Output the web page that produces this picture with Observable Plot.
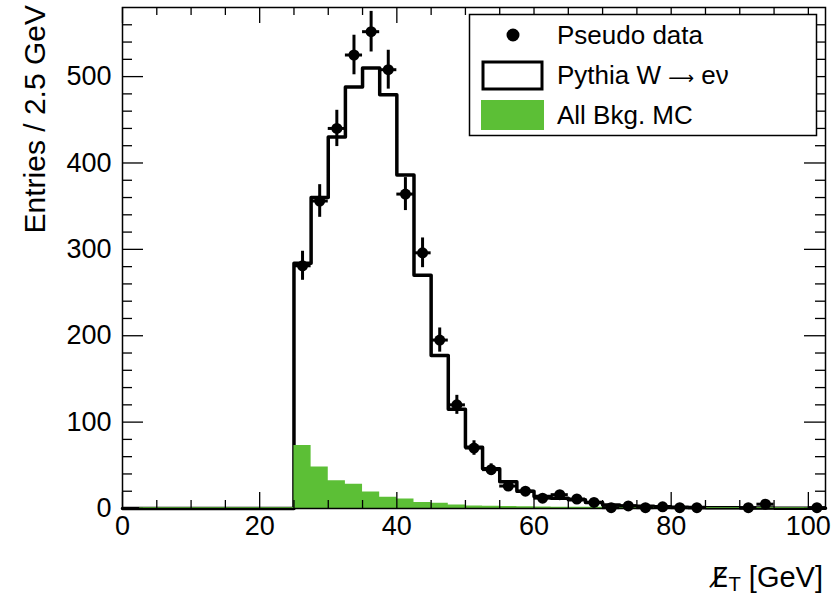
<!DOCTYPE html>
<html>
<head>
<meta charset="utf-8">
<script src="https://cdn.jsdelivr.net/npm/d3@7"></script>
<script src="https://cdn.jsdelivr.net/npm/@observablehq/plot@0.6"></script>
<style>
  html, body { margin: 0; padding: 0; background: white; }
  svg { display: block; }
</style>
</head>
<body>
<div id="chart"></div>
<script>
// ---- data ----
const binLow = [0, 2.5, 5, 7.5, 10, 12.5, 15, 17.5, 20, 22.5,
  25, 27.5, 30, 32.5, 35, 37.5, 40, 42.5, 45, 47.5,
  50, 52.5, 55, 57.5, 60, 62.5, 65, 67.5, 70, 72.5,
  75, 77.5, 80, 82.5, 85, 87.5, 90, 92.5, 95, 97.5, 100];
const binUpperEdge = 102.5;

const signalMC = [0, 0, 0, 0, 0, 0, 0, 0, 0, 0,
  284, 360, 430, 488, 510, 479, 386, 270, 177, 115,
  71, 46, 31, 20, 14, 12, 10, 7, 4, 3,
  2.5, 2, 1.5, 1.2, 1, 0.8, 0.6, 0.5, 0.4, 0.3, 0.3];

const bkgMC = [0, 1.2, 1.2, 1.2, 1.2, 1.2, 1.2, 1.2, 1.2, 1.2,
  73, 48, 32, 28, 19, 13, 11, 7, 6, 4,
  3, 2.5, 2.2, 2, 1.8, 1.5, 1.5, 1.5, 1.5, 1.5,
  1.4, 1.4, 1.3, 1.3, 1.3, 1.2, 1.2, 1.2, 1.2, 1.2, 1.2];

const dataX = [26.25, 28.75, 31.25, 33.75, 36.25, 38.75, 41.25, 43.75, 46.25, 48.75,
  51.25, 53.75, 56.25, 58.75, 61.25, 63.75, 66.25, 68.75, 71.25, 73.75,
  76.25, 78.75, 81.25, 83.75, 91.25, 93.75, 101.25];
const dataY = [281, 356, 440, 525, 552, 508, 364, 296, 195, 120,
  70, 45, 26, 20, 12, 16, 11, 7, 1, 3,
  1, 2, 1, 1, 1, 5, 1];
const dataErr = [16.8, 18.9, 21, 22.9, 23.5, 22.5, 19.1, 17.2, 14, 11,
  8.4, 6.7, 5.1, 4.5, 3.5, 4, 3.3, 2.6, 1, 1.7,
  1, 1.4, 1, 1, 1, 2.2, 1];
const binHalfWidth = 1.25;

const xTickLabels = [0, 20, 40, 60, 80, 100];
const yTickLabels = [0, 100, 200, 300, 400, 500];

const legendLabels = ["Pseudo data", ["Pythia W ", "\u27f6", " e\u03bd"], "All Bkg. MC"];
const yTitle = "Entries / 2.5 GeV";
const xTitleParts = ["E\u0338", "T", " [GeV]"];

// ---- tables for the library ----
const sigPts = binLow.map((x, i) => ({x, y: signalMC[i]}));
sigPts.push({x: binUpperEdge, y: signalMC[signalMC.length - 1]});
const bkgPts = binLow.map((x, i) => ({x, y: bkgMC[i]}));
bkgPts.push({x: binUpperEdge, y: bkgMC[bkgMC.length - 1]});
const pts = dataX.map((x, i) => ({x, y: dataY[i], e: dataErr[i]}));

const xMinor = d3.range(5, 101, 5).filter(v => v % 20 !== 0);
const yMinor = d3.range(20, 580, 20).filter(v => v % 100 !== 0);

// ---- layout ----
const W = 832, H = 596, mL = 122, mR = 7, mT = 7, mB = 88;
const fw = W - mL - mR, fh = H - mT - mB;
const green = "#5cbf36";
const font = "'Liberation Sans', Arial, Helvetica, sans-serif";
const tickW = 1.3;

const plot = Plot.plot({
  width: W, height: H,
  marginLeft: mL, marginRight: mR, marginTop: mT, marginBottom: mB,
  x: {domain: [0, binUpperEdge]},
  y: {domain: [0, 580]},
  style: {fontFamily: font, fontSize: "27px", color: "black", background: "white", overflow: "visible"},
  marks: [
    Plot.line(sigPts, {x: "x", y: "y", curve: "step-after", stroke: "black", strokeWidth: 3.5}),
    Plot.areaY(bkgPts, {x: "x", y: "y", curve: "step-after", fill: green}),
    Plot.ruleX(pts, {x: "x", y1: d => d.y - d.e, y2: d => d.y + d.e, stroke: "black", strokeWidth: 3}),
    Plot.ruleY(pts, {y: "y", x1: d => d.x - binHalfWidth, x2: d => d.x + binHalfWidth, stroke: "black", strokeWidth: 3}),
    Plot.dot(pts, {x: "x", y: "y", r: 5.5, fill: "black", stroke: "none"}),
    // inward ticks on all four sides
    Plot.tickX(xTickLabels, {x: d => d, insetTop: fh - 16, stroke: "black", strokeWidth: tickW}),
    Plot.tickX(xMinor, {x: d => d, insetTop: fh - 8, stroke: "black", strokeWidth: tickW}),
    Plot.tickX(xTickLabels, {x: d => d, insetBottom: fh - 16, stroke: "black", strokeWidth: tickW}),
    Plot.tickX(xMinor, {x: d => d, insetBottom: fh - 8, stroke: "black", strokeWidth: tickW}),
    Plot.tickY(yTickLabels, {y: d => d, insetRight: fw - 21, stroke: "black", strokeWidth: tickW}),
    Plot.tickY(yMinor, {y: d => d, insetRight: fw - 10, stroke: "black", strokeWidth: tickW}),
    Plot.tickY(yTickLabels, {y: d => d, insetLeft: fw - 21, stroke: "black", strokeWidth: tickW}),
    Plot.tickY(yMinor, {y: d => d, insetLeft: fw - 10, stroke: "black", strokeWidth: tickW}),
    Plot.frame({stroke: "black", strokeWidth: 1.5}),
    Plot.axisX({ticks: xTickLabels, tickSize: 0, tickPadding: 7, fontSize: 27, label: null}),
    Plot.axisY({ticks: yTickLabels, tickSize: 0, tickPadding: 11, fontSize: 27, label: null})
  ]
});

document.getElementById("chart").appendChild(plot);
const svg = d3.select(plot);

// y title
svg.append("text")
  .attr("transform", `translate(45,5) rotate(-90)`)
  .attr("text-anchor", "end")
  .attr("font-family", font).attr("font-size", 30).attr("fill", "black")
  .text(yTitle);

// x title: slashed E_T [GeV]
const xt = svg.append("text")
  .attr("x", W - 9).attr("y", 587)
  .attr("text-anchor", "end")
  .attr("font-family", font).attr("font-size", 29).attr("fill", "black");
xt.append("tspan").attr("font-family", "'DejaVu Sans', sans-serif").attr("font-size", 26).text(xTitleParts[0]);
xt.append("tspan").attr("dy", "0.2em").attr("font-size", "0.7em").text(xTitleParts[1]);
xt.append("tspan").attr("dy", "-0.14em").text(xTitleParts[2]);

// legend (inside frame, top right)
const lg = svg.append("g").attr("font-family", font).attr("font-size", 26).attr("text-anchor", "start");
lg.append("rect").attr("x", 469.5).attr("y", 14.5).attr("width", 347).attr("height", 121)
  .attr("fill", "white").attr("stroke", "black").attr("stroke-width", 1.5);
lg.append("circle").attr("cx", 513).attr("cy", 35).attr("r", 6.5).attr("fill", "black");
lg.append("rect").attr("x", 483).attr("y", 62).attr("width", 59).attr("height", 27)
  .attr("fill", "white").attr("stroke", "black").attr("stroke-width", 3);
lg.append("rect").attr("x", 481).attr("y", 100).attr("width", 63).attr("height", 30)
  .attr("fill", green);
[35, 75, 115].forEach((cy, i) => {
  const t = lg.append("text").attr("x", 557).attr("y", cy).attr("dy", "0.36em")
    .attr("text-anchor", "start").attr("fill", "black");
  const lab = legendLabels[i];
  if (Array.isArray(lab)) {
    t.append("tspan").text(lab[0]);
    t.append("tspan").attr("font-family", "'DejaVu Sans', sans-serif").attr("font-size", 18).text(lab[1]);
    t.append("tspan").text(lab[2]);
  } else {
    t.text(lab);
  }
});
</script>
</body>
</html>
